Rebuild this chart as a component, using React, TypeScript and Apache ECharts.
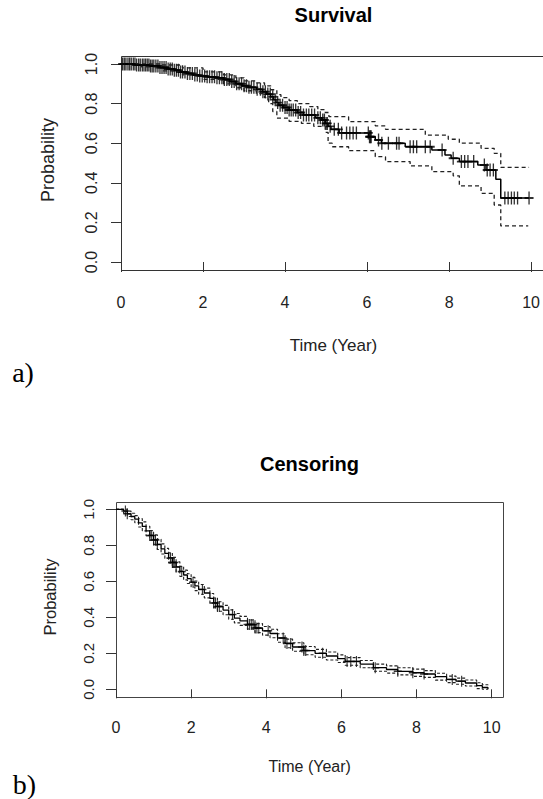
import React, { useEffect, useRef } from "react";
import * as echarts from "echarts";

// ---------- Survival (panel a) ----------
const survTime = [0, 0.35, 0.7, 0.95, 1.15, 1.3, 1.45, 1.6, 1.75, 1.9, 2.1, 2.3, 2.5, 2.65, 2.8, 2.95, 3.1, 3.3, 3.45, 3.55, 3.65, 3.72, 3.78, 3.85, 3.95, 4.1, 4.3, 4.45, 4.75, 4.9, 4.98, 5.05, 5.12, 5.32, 6.04, 6.2, 6.35, 6.93, 7.58, 7.9, 8.05, 8.25, 8.7, 8.9, 9.14, 9.26, 9.95];
const survProb = [1.0, 0.995, 0.99, 0.982, 0.975, 0.968, 0.96, 0.952, 0.945, 0.94, 0.935, 0.93, 0.922, 0.912, 0.9, 0.89, 0.882, 0.872, 0.86, 0.848, 0.835, 0.82, 0.805, 0.792, 0.78, 0.768, 0.755, 0.742, 0.728, 0.717, 0.7, 0.685, 0.67, 0.652, 0.633, 0.616, 0.6, 0.582, 0.566, 0.54, 0.524, 0.507, 0.49, 0.465, 0.418, 0.323, 0.323];
const survUpTime = [0, 1.0, 1.5, 2.0, 2.5, 2.8, 3.0, 3.3, 3.5, 3.65, 3.8, 3.9, 4.1, 4.3, 4.6, 4.8, 4.98, 5.07, 5.55, 6.2, 6.45, 7.42, 7.98, 8.25, 8.78, 9.1, 9.26, 9.95];
const survUpProb = [1.0, 0.995, 0.98, 0.96, 0.945, 0.93, 0.915, 0.905, 0.89, 0.87, 0.845, 0.83, 0.815, 0.8, 0.785, 0.77, 0.755, 0.734, 0.709, 0.688, 0.67, 0.641, 0.62, 0.6, 0.574, 0.549, 0.478, 0.478];
const survLoTime = [0, 0.5, 1.0, 1.5, 2.0, 2.5, 2.8, 3.0, 3.3, 3.5, 3.6, 3.7, 3.8, 4.1, 4.4, 4.7, 4.98, 5.05, 5.15, 5.55, 6.2, 6.45, 7.05, 7.58, 8.1, 8.25, 8.78, 9.1, 9.26, 9.93];
const survLoProb = [1.0, 0.985, 0.965, 0.945, 0.922, 0.9, 0.88, 0.865, 0.85, 0.83, 0.8, 0.76, 0.727, 0.71, 0.7, 0.685, 0.655, 0.6, 0.582, 0.562, 0.532, 0.507, 0.485, 0.456, 0.435, 0.384, 0.347, 0.288, 0.182, 0.182];
const survCensor = [0.04, 0.08, 0.12, 0.17, 0.21, 0.25, 0.3, 0.34, 0.38, 0.43, 0.47, 0.52, 0.56, 0.6, 0.64, 0.68, 0.72, 0.76, 0.8, 0.85, 0.9, 0.95, 1.0, 1.05, 1.1, 1.15, 1.2, 1.25, 1.3, 1.35, 1.4, 1.45, 1.5, 1.56, 1.62, 1.68, 1.74, 1.8, 1.86, 1.92, 1.98, 2.04, 2.1, 2.16, 2.22, 2.28, 2.34, 2.4, 2.46, 2.52, 2.58, 2.64, 2.7, 2.76, 2.82, 2.88, 2.94, 3.0, 3.06, 3.12, 3.18, 3.24, 3.32, 3.4, 3.46, 3.52, 3.58, 3.64, 3.7, 3.76, 3.82, 3.88, 3.94, 4.0, 4.05, 4.1, 4.15, 4.2, 4.26, 4.32, 4.38, 4.45, 4.52, 4.58, 4.65, 4.72, 4.8, 4.86, 4.92, 4.96, 5.0, 5.03, 5.1, 5.2, 5.3, 5.38, 5.5, 5.58, 5.66, 5.74, 6.03, 6.06, 6.08, 6.1, 6.28, 6.36, 6.52, 6.72, 6.78, 7.05, 7.13, 7.21, 7.42, 7.54, 7.83, 8.1, 8.3, 8.38, 8.46, 8.6, 8.86, 8.93, 9.0, 9.08, 9.36, 9.44, 9.52, 9.59, 9.67, 9.95];

// ---------- Censoring (panel b) ----------
const censTime = [0, 0.2, 0.3, 0.4, 0.5, 0.6, 0.7, 0.8, 0.9, 1.0, 1.1, 1.2, 1.3, 1.4, 1.5, 1.6, 1.7, 1.8, 1.9, 2.0, 2.1, 2.2, 2.35, 2.5, 2.6, 2.7, 2.85, 3.0, 3.15, 3.3, 3.5, 3.7, 3.9, 4.1, 4.3, 4.5, 4.7, 5.0, 5.3, 5.6, 5.9, 6.1, 6.5, 6.85, 7.2, 7.5, 7.9, 8.2, 8.5, 8.8, 9.05, 9.3, 9.6, 9.75, 9.9];
const censProb = [1.0, 0.99, 0.975, 0.96, 0.945, 0.925, 0.905, 0.88, 0.855, 0.83, 0.805, 0.78, 0.755, 0.73, 0.705, 0.68, 0.655, 0.635, 0.615, 0.595, 0.575, 0.555, 0.535, 0.505, 0.48, 0.46, 0.44, 0.415, 0.395, 0.38, 0.36, 0.34, 0.325, 0.31, 0.285, 0.255, 0.235, 0.215, 0.2, 0.185, 0.17, 0.155, 0.14, 0.12, 0.11, 0.1, 0.092, 0.085, 0.07, 0.055, 0.045, 0.035, 0.02, 0.01, 0.0];
const censUpProb = [1.0, 1.0, 0.99, 0.978, 0.965, 0.948, 0.93, 0.906, 0.882, 0.858, 0.833, 0.808, 0.783, 0.758, 0.733, 0.708, 0.683, 0.662, 0.642, 0.622, 0.602, 0.582, 0.562, 0.532, 0.507, 0.486, 0.466, 0.441, 0.421, 0.405, 0.385, 0.365, 0.349, 0.334, 0.309, 0.279, 0.259, 0.238, 0.222, 0.207, 0.191, 0.176, 0.16, 0.14, 0.13, 0.12, 0.112, 0.104, 0.089, 0.073, 0.062, 0.052, 0.036, 0.025, 0.018];
const censLoProb = [1.0, 0.978, 0.96, 0.942, 0.925, 0.902, 0.88, 0.854, 0.828, 0.802, 0.777, 0.752, 0.727, 0.702, 0.677, 0.652, 0.627, 0.608, 0.588, 0.568, 0.548, 0.528, 0.508, 0.478, 0.453, 0.434, 0.414, 0.389, 0.369, 0.355, 0.335, 0.315, 0.301, 0.286, 0.261, 0.231, 0.211, 0.192, 0.178, 0.163, 0.149, 0.134, 0.12, 0.1, 0.09, 0.08, 0.072, 0.066, 0.051, 0.037, 0.028, 0.018, 0.004, 0.0, 0.0];
const censMarks = [0.25, 0.3, 0.9, 0.95, 1.0, 1.05, 1.1, 1.45, 1.5, 1.52, 1.55, 1.6, 1.75, 2.05, 2.3, 2.6, 2.65, 2.7, 2.75, 3.1, 3.5, 3.55, 3.6, 3.65, 3.7, 3.75, 3.8, 4.05, 4.45, 4.55, 4.65, 4.95, 5.0, 5.05, 5.5, 6.15, 6.25, 6.4, 6.9, 7.5, 7.9, 8.2, 8.95, 9.2];

const xTicks = { min: 0, max: 10, interval: 2 };
const yTicks = { min: 0, max: 1, interval: 0.2 };

const FONT = '"Liberation Sans", Arial, sans-serif';
const SERIF = '"Liberation Serif", "Times New Roman", serif';

function zip(t: number[], p: number[]) {
  return t.map((v, i) => [v, p[i]]);
}
function stepAt(t: number[], p: number[], x: number) {
  let v = p[0];
  for (let i = 0; i < t.length; i++) if (t[i] <= x) v = p[i];
  return v;
}

const PLUS = "path://M5,0 L5,14 M0,7 L10,7";

export default function App() {
  const ref = useRef<HTMLDivElement>(null);
  useEffect(() => {
    if (!ref.current) return;
    const chart = echarts.init(ref.current, null, { renderer: "svg" });

    const mkX = (gi: number, offset: number, tick: number, margin: number, fs: number) => ({
      type: "value", gridIndex: gi, ...xTicks, offset,
      axisLine: { show: false },
      axisTick: { length: tick, lineStyle: { color: "#333", width: 1 } },
      axisLabel: { margin, fontSize: fs, color: "#222", fontFamily: FONT },
      splitLine: { show: false },
    });
    const mkY = (gi: number, tick: number, margin: number, fs: number) => ({
      type: "value", gridIndex: gi, ...yTicks,
      axisLine: { show: false },
      axisTick: { length: tick, lineStyle: { color: "#333", width: 1 } },
      axisLabel: { margin, rotate: 90, fontSize: fs, color: "#222", fontFamily: FONT,
        formatter: (v: number) => v.toFixed(1) },
      splitLine: { show: false },
    });
    const solid = (xi: number, data: number[][], w: number) => ({
      type: "line", xAxisIndex: xi, yAxisIndex: xi, data, step: "end",
      showSymbol: false, silent: true, clip: false,
      lineStyle: { color: "#000", width: w },
    });
    const dashed = (xi: number, data: number[][], dash: number[], w: number) => ({
      type: "line", xAxisIndex: xi, yAxisIndex: xi, data, step: "end",
      showSymbol: false, silent: true, clip: false,
      lineStyle: { color: "#222", width: w, type: dash },
    });
    const marks = (xi: number, data: number[][], size: number[], w: number) => ({
      type: "scatter", xAxisIndex: xi, yAxisIndex: xi, data, symbol: PLUS,
      symbolSize: size, clip: false, silent: true,
      itemStyle: { color: "rgba(0,0,0,0)", borderColor: "#000", borderWidth: w },
    });

    const text = (x: number, y: number, t: string, font: any, rot = 0) => ({
      type: "text", x, y, rotation: rot, silent: true,
      style: { text: t, align: "center", verticalAlign: "middle", fill: "#111", ...font },
    });

    chart.setOption({
      animation: false,
      backgroundColor: "#fff",
      grid: [
        { left: 121, top: 64, width: 412, height: 198 },
        { left: 116, top: 509.3, width: 375.7, height: 180 },
      ],
      xAxis: [mkX(0, 8.5, 10, 24, 16), mkX(1, 8.2, 9, 22, 16)],
      yAxis: [mkY(0, 10, 22, 16), mkY(1, 10, 20, 15)],
      series: [
        dashed(0, zip(survUpTime, survUpProb), [4, 3], 1.3),
        dashed(0, zip(survLoTime, survLoProb), [4, 3], 1.3),
        solid(0, zip(survTime, survProb), 1.5),
        marks(0, survCensor.map((c) => [c, stepAt(survTime, survProb, c)]), [9, 13], 1.6),
        dashed(1, zip(censTime, censUpProb), [3, 2], 1.1),
        dashed(1, zip(censTime, censLoProb), [3, 2], 1.1),
        solid(1, zip(censTime, censProb), 1.3),
        marks(1, censMarks.map((c) => [c, stepAt(censTime, censProb, c)]), [8, 11], 1.3),
      ],
      graphic: [
        { type: "rect", silent: true, shape: { x: 121.5, y: 56.5, width: 440, height: 214 },
          style: { fill: "none", stroke: "#333", lineWidth: 1 } },
        { type: "rect", silent: true, shape: { x: 116.5, y: 502.5, width: 387, height: 195 },
          style: { fill: "none", stroke: "#444", lineWidth: 1 } },
        text(333.5, 15, "Survival", { fontSize: 20, fontWeight: "bold", fontFamily: FONT, fill: "#000" }),
        text(333.5, 345, "Time (Year)", { fontSize: 17, fontFamily: FONT, fill: "#222" }),
        text(48, 160, "Probability", { fontSize: 18, fontFamily: FONT, fill: "#222" }, Math.PI / 2),
        text(23, 372, "a)", { fontSize: 28, fontFamily: SERIF, fill: "#000" }),
        text(309.5, 464, "Censoring", { fontSize: 20, fontWeight: "bold", fontFamily: FONT, fill: "#000" }),
        text(309.7, 766, "Time (Year)", { fontSize: 16, fontFamily: FONT, fill: "#222" }),
        text(50, 597, "Probability", { fontSize: 16.5, fontFamily: FONT, fill: "#222" }, Math.PI / 2),
        text(24.5, 784, "b)", { fontSize: 28, fontFamily: SERIF, fill: "#000" }),
      ],
    } as any);

    return () => chart.dispose();
  }, []);

  return (
    <div
      ref={ref}
      style={{ position: "absolute", left: 0, top: 0, width: 543, height: 799, background: "#fff" }}
    />
  );
}
